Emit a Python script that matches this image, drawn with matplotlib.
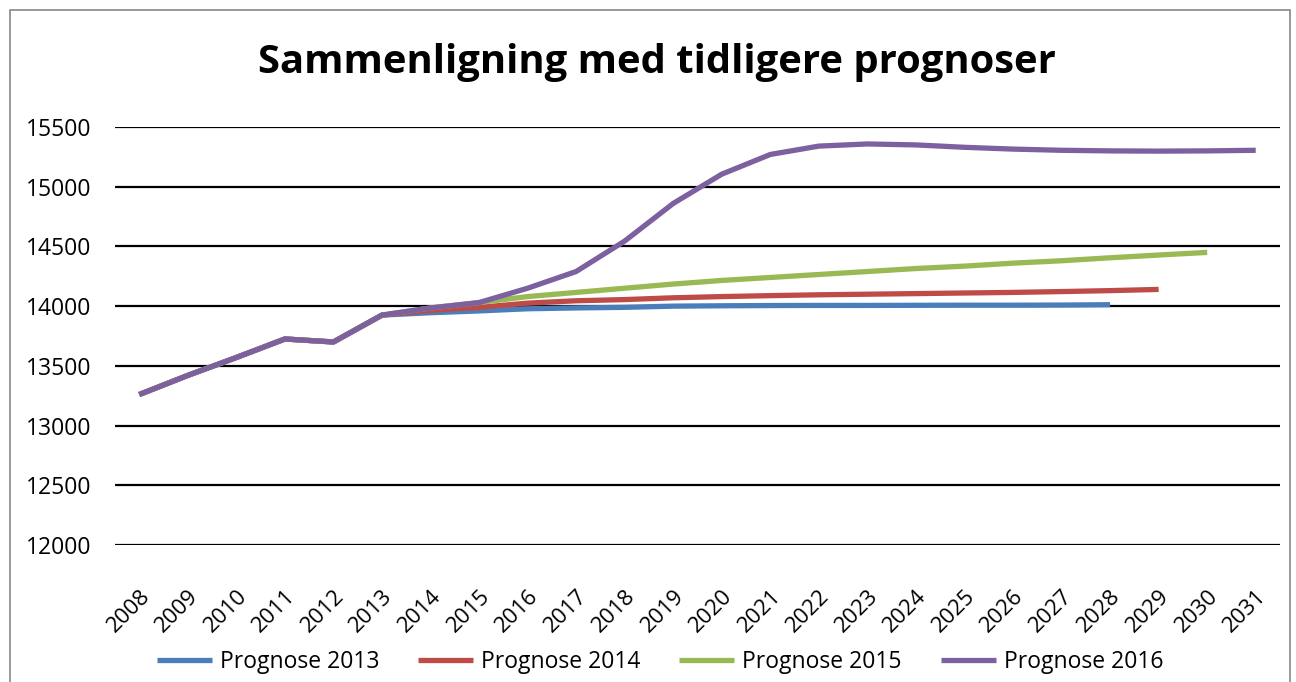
import matplotlib
matplotlib.use("Agg")
import matplotlib.pyplot as plt
from matplotlib.patches import Rectangle

years = [str(y) for y in range(2008, 2032)]

history = [13260, 13420, 13570, 13725, 13700, 13925]

prognose_2013 = history + [13945, 13960, 13978, 13985, 13990, 14000, 14003, 14005,
                           14006, 14006, 14007, 14008, 14008, 14009, 14012]
prognose_2014 = history + [13965, 13990, 14025, 14045, 14055, 14070, 14080, 14088,
                           14095, 14100, 14105, 14110, 14115, 14122, 14130, 14140]
prognose_2015 = history + [13985, 14030, 14080, 14115, 14150, 14185, 14215, 14240,
                           14265, 14290, 14315, 14335, 14360, 14380, 14405, 14428, 14450]
prognose_2016 = history + [13985, 14030, 14150, 14290, 14545, 14860, 15105, 15270,
                           15340, 15358, 15350, 15330, 15315, 15305, 15300, 15298, 15300, 15305]

series = [
    ("Prognose 2013", prognose_2013, "#4A7EBB"),
    ("Prognose 2014", prognose_2014, "#BE4B48"),
    ("Prognose 2015", prognose_2015, "#98B954"),
    ("Prognose 2016", prognose_2016, "#7D60A0"),
]

yticks = list(range(12000, 15501, 500))

plt.rcParams['font.family'] = ['Open Sans', 'DejaVu Sans']

fig = plt.figure(figsize=(12.96, 6.82), dpi=100)
W, H = 1296, 682
ax = fig.add_axes([115 / W, 1 - 545 / H, (1280 - 115) / W, (545 - 127) / H])

x = list(range(len(years)))
handles = []
for name, vals, col in series:
    h, = ax.plot(x[:len(vals)], vals, color=col, lw=3.8, label=name,
                 solid_capstyle='butt', zorder=3)
    handles.append(h)

ax.set_xlim(-0.5, len(years) - 0.5)
ax.set_ylim(12000, 15500)
ax.set_yticks(yticks)
ax.set_yticklabels([str(v) for v in yticks], fontsize=16.5)
ax.set_xticks(x)
ax.set_xticklabels(years, rotation=45, ha='right', va='top', rotation_mode='anchor',
                   fontsize=16)
ax.tick_params(length=0)
ax.tick_params(axis='y', pad=17)
ax.tick_params(axis='x', pad=29)
for s in ax.spines.values():
    s.set_visible(False)
ax.yaxis.grid(True, color='black', lw=1.6)
ax.set_axisbelow(True)

fig.text(657 / W, 1 - 62 / H, "Sammenligning med tidligere prognoser",
         ha='center', va='center', fontsize=28.8, fontweight='bold')

fig.legend(handles=handles, loc='center', bbox_to_anchor=(660 / W, 1 - 662 / H),
           ncol=4, frameon=False, fontsize=16.5, handlelength=2.4,
           columnspacing=1.7, handletextpad=0.35)

fig.patches.append(Rectangle((10 / W, -0.05), (1290 - 10) / W, 1.05 - 10 / H,
                             transform=fig.transFigure, fill=False,
                             edgecolor='#888888', lw=1.2))

fig.savefig("out.png", dpi=100, facecolor='white')
